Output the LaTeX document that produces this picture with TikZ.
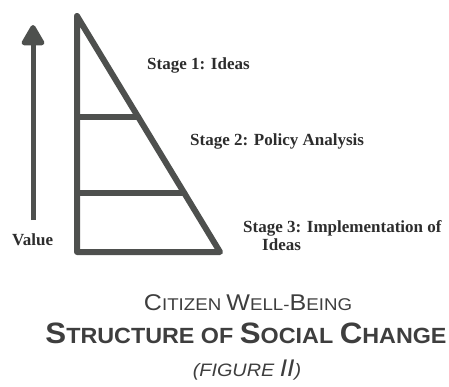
\documentclass[tikz,border=0pt]{standalone}
\usepackage{fontspec}
\usepackage{graphicx}
\usepackage{tikz}
\usetikzlibrary{arrows.meta,calc,positioning}
\newfontfamily\stagefont{Liberation Serif}
\newfontfamily\capfont{Liberation Sans}
\definecolor{bargray}{RGB}{78,80,78}
\definecolor{inkgray}{RGB}{45,45,45}
\definecolor{capgray}{RGB}{62,62,62}
% large first letter for the fake small caps
\newcommand{\initcap}[1]{\scalebox{1.34}{#1}}
\newcommand{\wide}[2][1.1]{\scalebox{#1}[1]{#2}}

\begin{document}
\begin{tikzpicture}[x=1pt,y=-1pt,
        frame/.style={draw=bargray, line width=6pt, line join=round, line cap=round},
        stagelbl/.style={anchor=base west, inner sep=0pt, text=inkgray, font=\stagefont\bfseries\fontsize{17}{18}\selectfont},
        caption/.style={anchor=base, inner sep=0pt, text=capgray},
        valarrow/.style={draw=bargray, line width=5pt, -{Triangle[width=25pt,length=23pt,round]}}]

      \useasboundingbox (0,0) rectangle (449,386);

      % the triangle
      \coordinate (apex) at (77,16);
      \coordinate (bl) at (77,252);
      \coordinate (br) at (220,252);
      \draw[frame] (apex) -- (br) -- (bl) -- cycle;

      % stage dividers
      \coordinate (d1r) at ($(apex)!0.428!(br)$);
      \coordinate (d2r) at ($(apex)!0.75!(br)$);
      \coordinate (d1l) at (apex |- d1r);
      \coordinate (d2l) at (apex |- d2r);
      \draw[frame] (d1l) -- (d1r);
      \draw[frame] (d2l) -- (d2r);

      % value arrow
      \coordinate (valbase) at (33,220);
      \coordinate (valtop) at (33,25);
      \draw[valarrow] (valbase) -- (valtop);
      \node[stagelbl] (value) at (12,245) {Value};

      \node[stagelbl] (s1) at (147,69) {Stage 1: Ideas};
      \node[stagelbl] (s2) at (190,145) {Stage 2: Policy Analysis};
      \node[stagelbl] (s3) at (243,232) {Stage 3: Implementation of};
      \node[stagelbl] (s3b) at (262,250) {Ideas};

      % caption
      \node[caption, font=\capfont\fontsize{17}{19}\selectfont] (cap1) at (248,310)
          {\wide{\initcap{C}ITIZEN \initcap{W}ELL-\initcap{B}EING}};
      \node[caption, font=\capfont\bfseries\fontsize{22}{24}\selectfont] (cap2) at (246,343)
          {\wide[1.06]{\initcap{S}TRUCTURE OF \initcap{S}OCIAL \initcap{C}HANGE}};
      \node[caption, font=\capfont\itshape\fontsize{18}{20}\selectfont] (cap3) at (247,376)
          {\wide{(FIGURE \initcap{II})}};
    \end{tikzpicture}
\end{document}
